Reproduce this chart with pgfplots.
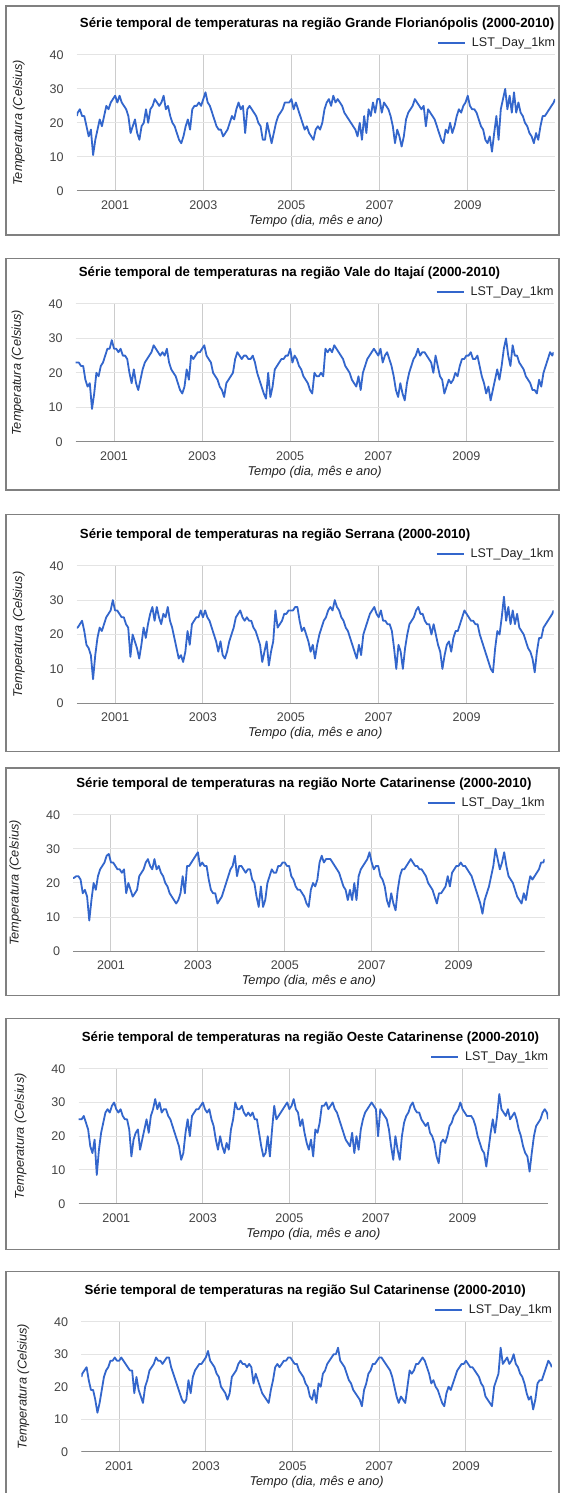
\documentclass[border=0pt]{standalone}
\usepackage{fontspec}
\setmainfont{Liberation Sans}
\usepackage{pgfplots}
\usepackage{pgfplotstable}
\pgfplotsset{compat=1.18}
\definecolor{gline}{HTML}{3366CC}
\definecolor{vgrid}{HTML}{CCCCCC}
\definecolor{hgrid}{HTML}{E4E4E4}
\definecolor{basec}{HTML}{8A8A8A}
\definecolor{boxc}{HTML}{808080}
\definecolor{tickc}{HTML}{444444}
\definecolor{axt}{HTML}{222222}

\pgfplotstableread{
t a b c d e f
2000.13 22 23 22 21.5 25 23
2000.15 23 23 22 21.5 25 24
2000.20 24 23 23 22 25 25
2000.25 22 22 24 22 26 26
2000.30 22 22 21 21 24 22
2000.35 19 18 17 17 22 19
2000.40 16 16 16 18 17 19
2000.45 18 17 14 16 15 16
2000.50 10.5 9.5 7 9 19 12
2000.55 15 14 14 15 8.5 15
2000.60 18 20 19 20 16 19
2000.65 21 19 22 18 21 23
2000.70 19 22 21 22 24 25
2000.75 22 23 23 24 27 26
2000.80 25 25 25 25 28 28
2000.85 24 27 26 26 27 28
2000.90 26 27 27 28 29 29
2000.95 27 29.5 30 28.5 30 28
2001.00 28 27 27 26 28 28
2001.05 26 27 27 26 27 29
2001.10 28 26 26 25 28 28
2001.15 26 27 25 24 26 27
2001.20 25 25 25 24 25 26
2001.25 24 25 23 23 25 25
2001.30 22 24 22 24 22 25
2001.35 17 20 13.5 17 14 18
2001.40 19 17 20 20 19 23
2001.45 21 21 18 18 21 19
2001.50 17 17 16 16 22 17
2001.55 15 15 13 17 16 15
2001.60 19 18 17 18 19 20
2001.65 20 21 22 22 22 22
2001.70 24 23 19 23 25 25
2001.75 20 24 23 24 21 26
2001.80 24 25 26 26 26 27
2001.85 25 26 28 27 28 29
2001.90 27 28 24 25 31 28
2001.95 26 27 28 24 28 28
2002.00 25 26 25 27 30 27
2002.05 26 25 23 24 27 28
2002.10 28 26 26 25 28 29
2002.15 24 25 25 23 28 29
2002.20 25 27 28 22 26 26
2002.25 22 23 24 20 25 24
2002.30 20 21 22 19 23 22
2002.35 19 20 19 17 21 20
2002.40 17 19 16 16 19 18
2002.45 15 17 13 15 17 16
2002.50 14 15 14 14 13 15
2002.55 16 14 12 15 15 16
2002.60 19 16 15 17 21 22
2002.65 21 21 21 22 25 18
2002.70 18 18 17 17 20 23
2002.75 24 25 23 25 26 25
2002.80 25 24 24 25 27 26
2002.85 25 25 25 26 28 27
2002.90 26 26 25 27 28 27
2002.95 25 26 27 28 29 28
2003.00 27 27 25 29 30 29
2003.05 29 28 27 25 28 31
2003.10 26 25 25 26 27 28
2003.15 25 24 24 25 28 27
2003.20 23 23 22 25 25 26
2003.25 21 20 20 21 23 24
2003.30 19 19 18 18 19 23
2003.35 18 18 15 17 16 20
2003.40 18 16 18 17 20 19
2003.45 16 15 14 14 17 18
2003.50 17 13 13 15 15 16
2003.55 18 17 15 16 18 18
2003.60 20 18 18 18 16 23
2003.65 22 19 20 20 22 24
2003.70 21 20 22 22 25 25
2003.75 24 24 25 24 30 27
2003.80 26 26 26 25 28 28
2003.85 24 25 27 28 28 27
2003.90 25 24 25 22 29 27
2003.95 17 25 24 25 27 26
2004.00 24 25 25 25 26 27
2004.05 25 24 24 24 27 26
2004.10 24 24 24 23 26 21
2004.15 23 25 22 24 27 24
2004.20 22 23 21 24 25 22
2004.25 20 20 19 21 25 20
2004.30 19 18 17 20 21 18
2004.35 15 16 12 16 17 17
2004.40 15 14 15 13 14 16
2004.45 20 12.5 18 19 15 15
2004.50 17 20 11 13 20 19
2004.55 14 13 15 15 14 22
2004.60 17 16 18 20 22 26
2004.65 20 21 27 22 29 27
2004.70 22 22 22 24 25 26
2004.75 23 23 23 23 26 27
2004.80 24 24 24 23 27 28
2004.85 26 24 26 25 28 28
2004.90 26 25 26 25 29 29
2004.95 26 25 27 26 30 29
2005.00 27 27 27 26 28 28
2005.05 24 23 27 25 29 27
2005.10 26 25 28 25 31 27
2005.15 24 24 28 22 28 25
2005.20 22 22 24 21 27 24
2005.25 20 21 21 19 23 23
2005.30 18 19 22 18 25 21
2005.35 19 18 20 18 21 20
2005.40 17 17 18 17 18 17
2005.45 16 15 15 16 16 16
2005.50 15 14 17 14 19 19
2005.55 18 20 13 13 14 15
2005.60 19 19 17 18 22 21
2005.65 18 19 20 20 21 20
2005.70 20 20 22 19 24 24
2005.75 24 19 24 21 29 25
2005.80 26 27 25 26 29 27
2005.85 27 26 27 28 30 28
2005.90 25 27 28 26 28 29
2005.95 28 26 27 27 29 30
2006.00 26 28 30 27 30 30
2006.05 27 27 28 27 28 32
2006.10 26 26 27 26 27 28
2006.15 25 25 25 25 25 27
2006.20 23 24 24 24 23 26
2006.25 22 22 22 23 21 24
2006.30 21 21 21 21 19 22
2006.35 20 20 19 19 18 21
2006.40 19 18 17 18 17 19
2006.45 18 17 15 15 21 18
2006.50 16 16 13 18 15 17
2006.55 20 19 17 15 20 16
2006.60 15 15 14 20 16 14
2006.65 22 20 20 15 22 19
2006.70 17 22 22 22 25 21
2006.75 24 24 24 24 27 24
2006.80 22 25 26 25 28 25
2006.85 26 26 27 26 29 27
2006.90 23 27 28 27 30 27
2006.95 27 26 26 29 29 28
2007.00 27 25 25 26 28 29
2007.05 23 27 27 24 20 29
2007.10 26 23 24 25 28 28
2007.15 25 25 24 25 27 27
2007.20 24 26 23 22 26 26
2007.25 22 24 23 21 25 25
2007.30 19 22 21 19 22 23
2007.35 14 19 16 15 17 20
2007.40 18 15 10 13 13 17
2007.45 16 13 17 17 20 15
2007.50 13 17 15 14 16 17
2007.55 16 14 10 12 13 16
2007.60 21 12 16 18 20 15
2007.65 23 17 20 22 24 20
2007.70 24 20 23 24 26 25
2007.75 25 22 24 24 27 24
2007.80 27 24 25 25 29 25
2007.85 26 25 27 26 30 27
2007.90 25 27 28 27 28 27
2007.95 24 25 26 26 27 28
2008.00 25 26 26 25 27 29
2008.05 19 26 24 25 25 28
2008.10 24 25 23 24 24 26
2008.15 23 24 23 24 23 24
2008.20 22 23 20 23 24 21
2008.25 21 20 23 22 21 22
2008.30 19 25 20 20 20 20
2008.35 17 22 17 19 18 19
2008.40 15 19 15 18 14 17
2008.45 14 18 10 16 12 15
2008.50 18 14 14 14 18 14
2008.55 17 16 17 17 19 18
2008.60 20 18 18 17 18 20
2008.65 17 17 15 18 20 19
2008.70 19 18 19 19 23 21
2008.75 22 20 21 22 24 23
2008.80 24 19 21 19 26 25
2008.85 23 22 23 23 27 26
2008.90 25 24 25 24 28 27
2008.95 26 24 27 25 30 27
2009.00 28 25 26 25 28 28
2009.05 25 25 25 26 27 27
2009.10 24 26 24 25 26 26
2009.15 24 24 24 25 26 26
2009.20 23 24 23 24 26 25
2009.25 21 25 23 23 25 24
2009.30 19 22 20 22 23 23
2009.35 18 19 18 20 20 21
2009.40 15 17 16 18 18 20
2009.45 14 14 14 16 16 17
2009.50 16 16 12 14 15 16
2009.55 11.5 12 10 11 11 15
2009.60 17 15 9 15 16 14
2009.65 22 18 16 17 21 20
2009.70 15 21 21 19 25 22
2009.75 24 18 20 22 21 24
2009.80 27 22 25 25 26 32
2009.85 30 27 31 30 32.5 27
2009.90 24 30 24 27 28 28
2009.95 28 25 28 24 27 29
2010.00 23 22 23 26 26 27
2010.05 29 28 27 29 28 28
2010.10 23 25 23 25 25 30
2010.15 26 25 26 22 26 27
2010.20 23 23 22 21 27 26
2010.25 22 22 21 20 25 24
2010.30 20 21 20 18 22 23
2010.35 19 19 18 16 20 21
2010.40 17 18 16 15 17 18
2010.45 16 17 15 14 15 16
2010.50 14 15 13 17 14 17
2010.55 17 15 9 15 9.5 13
2010.60 15 14 15 19 15 16
2010.65 19 18 19 22 20 21
2010.70 22 16 19 21 23 22
2010.75 22 20 22 22 24 22
2010.80 23 22 23 23 25 24
2010.85 24 24 24 24 27 26
2010.90 25 26 25 26 28 28
2010.95 26 25 26 26 27 27
2010.98 27 26 27 27 25 26
}\temps

\pgfplotsset{
  legend image code/.code={\draw[gline, line width=1.8bp] (0bp,0bp) -- (27bp,0bp);},
  panel/.style={
    scale only axis,
    xmin=2000.13, xmax=2010.98, ymin=0, ymax=40,
    xtick={2001,2003,2005,2007,2009},
    xticklabels={2001,2003,2005,2007,2009},
    ytick={0,10,20,30,40},
    yticklabels={0,10,20,30,40},
    axis line style={draw=none},
    major tick length=0pt,
    xmajorgrids, ymajorgrids,
    x grid style={color=vgrid, line width=1bp},
    y grid style={color=hgrid, line width=1bp},
    x tick label style={font=\fontsize{12.6}{14}\selectfont, text=tickc, inner sep=0pt, anchor=north, yshift=-9.4bp},
    y tick label style={font=\fontsize{12.6}{14}\selectfont, text=tickc, inner sep=0pt, anchor=east, xshift=-13bp},
    title style={at={(0,1)}, anchor=west, xshift=3bp, yshift=25bp, inner sep=0pt, font=\bfseries\fontsize{13.3}{15}\selectfont},
    xlabel style={at={(0.5,0)}, anchor=center, yshift=-30bp, inner sep=0pt, text=axt, font=\itshape\fontsize{12.8}{14}\selectfont},
    ylabel style={anchor=center, inner sep=0pt, text=axt, font=\itshape\fontsize{12.8}{14}\selectfont},
    xlabel={Tempo (dia, mês e ano)},
    ylabel={Temperatura (Celsius)},
    legend style={at={(1,1)}, anchor=east, yshift=12bp, draw=none, fill=none,
      inner sep=0pt, outer sep=0pt, text=axt,
      font=\fontsize{12.6}{14}\selectfont,
      nodes={inner sep=0pt},
      /tikz/every odd column/.style={column sep=6bp}},
  }
}

% #1 column, #2 title, #3 left, #4 right, #5 y of 40, #6 y of 0, #7 box top, #8 box bottom (pixels from top)
\newcommand{\panel}[8]{%
  \pgfmathsetmacro{\pW}{#4-#3}%
  \pgfmathsetmacro{\pH}{#6-#5}%
  \pgfmathsetmacro{\pY}{1493-#6}%
  \pgfmathsetmacro{\bT}{1493-#7}%
  \pgfmathsetmacro{\bB}{1493-#8}%
  \pgfmathsetmacro{\yL}{-58/(#4-#3)}%
  \draw[boxc, line width=1.2bp] (6bp,\bB bp) rectangle (559bp,\bT bp);
  \begin{axis}[panel,
      at={(#3bp,\pY bp)}, anchor=south west,
      width=\pW bp, height=\pH bp,
      title={#2},
      ylabel style={at={(\yL,0.5)}}]
    \addplot[gline, line width=1.8bp, mark=none, line join=round] table[x=t, y=#1] {\temps};
    \addlegendentry{LST\_Day\_1km}
    \draw[basec, line width=1.3bp] (rel axis cs:0,0) -- (rel axis cs:1,0);
  \end{axis}
}

\begin{document}
\begin{tikzpicture}
  \useasboundingbox[fill=white] (0,0) rectangle (563bp,1493bp);
  \panel{a}{Série temporal de temperaturas na região Grande Florianópolis (2000-2010)}{76.8}{555}{55}{190.7}{6}{235}
  \panel{b}{Série temporal de temperaturas na região Vale do Itajaí (2000-2010)}{75.7}{553.6}{304}{441.7}{258.3}{490}
  \panel{c}{Série temporal de temperaturas na região Serrana (2000-2010)}{76.8}{553.6}{565.7}{703.3}{514.3}{751.7}
  \panel{d}{Série temporal de temperaturas na região Norte Catarinense (2000-2010)}{73.2}{544.6}{814.7}{951.3}{768}{995.3}
  \panel{e}{Série temporal de temperaturas na região Oeste Catarinense (2000-2010)}{78.6}{548.2}{1068.7}{1203.7}{1018.7}{1249.3}
  \panel{f}{Série temporal de temperaturas na região Sul Catarinense (2000-2010)}{81.4}{551.8}{1321.7}{1451.7}{1271.7}{1500}
\end{tikzpicture}
\end{document}
